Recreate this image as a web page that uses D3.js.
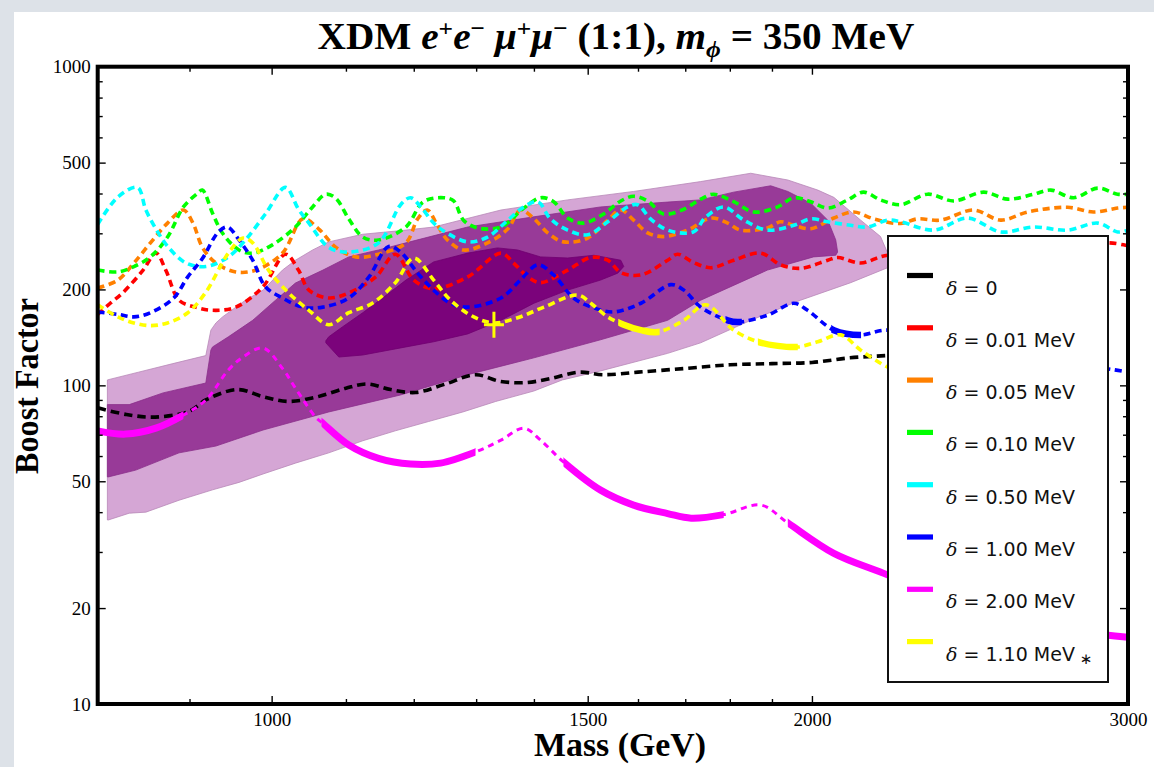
<!DOCTYPE html>
<html><head><meta charset="utf-8">
<script src="https://cdn.jsdelivr.net/npm/d3@7"></script>
<style>body{margin:0;background:#dde2e8;} svg{display:block}</style>
</head><body><svg id="c" width="1154" height="767"></svg>
<script>
// ---------- data ----------
const massRange = [800, 3000];
const boostRange = [10, 1000];
const xTickLabels = [1000, 1500, 2000, 3000];
const xMinorTicks = [900, 1100, 1200, 1300, 1400, 1600, 1700, 1800, 1900];
const yTickLabels = [10, 20, 50, 100, 200, 500, 1000];
const yMinorTicks = [30, 40, 60, 70, 80, 90, 300, 400, 600, 700, 800, 900];

const legendLabels = ["0", "0.01 MeV", "0.05 MeV", "0.10 MeV", "0.50 MeV", "1.00 MeV", "2.00 MeV", "1.10 MeV"];
const seriesNames = ["black", "red", "orange", "green", "cyan", "blue", "magenta", "yellow"];
const seriesColors = ["#000000", "#ff0000", "#ff8000", "#00ff00", "#00ffff", "#0000ff", "#ff00ff", "#ffff00"];

// regions (mass GeV, boost factor)
const lightTop = [[810,104],[843,110],[881,117],[919,124],[925,149],[931,157],[939,164],[967,185],[989,199],[1014,230],[1031,247],[1054,266],[1076,282],[1124,298],[1188,307],[1231,314],[1342,355],[1462,382],[1591,406],[1734,436],[1849,463],[1939,441],[2015,410],[2057,389],[2129,330],[2184,293],[2204,260]];
const lightBottom = [[2204,234],[2102,210],[1971,185],[1849,160],[1734,136],[1662,126],[1525,111],[1452,104],[1400,96],[1333,89],[1278,82.5],[1223,77],[1172,72],[1124,67],[1076,61.4],[1031,57],[989,52.7],[959,49.6],[927,47],[888,43.6],[851,40],[833,39.7],[811,37.8],[810,37.8]];
const mediumTop = [[810,87],[833,87],[870,94.7],[919,101.7],[925,129],[927,132],[946,142],[976,160],[1005,185],[1031,209.5],[1068,230],[1104,253],[1147,266],[1188,280],[1286,314],[1400,338],[1525,363],[1662,376],[1734,382],[1809,404],[1897,423],[1939,406],[1997,373],[2041,330],[2062,286],[2067,262]];
const mediumBottom = [[2062,256],[2004,253],[1889,230],[1734,185],[1662,160],[1525,139],[1400,122],[1286,108],[1180,93.3],[1076,82.5],[989,72.4],[931,64.5],[888,61.4],[840,54.2],[811,51.6],[810,51.6]];
const darkTop = [[1072,138],[1076,142],[1095,152.5],[1124,169],[1153,188],[1188,214],[1231,244],[1286,260],[1336,270],[1371,266],[1412,253],[1462,251],[1512,256],[1565,247],[1571,236]];
const darkBottom = [[1559,225],[1525,214],[1462,199],[1400,181],[1342,160],[1286,145],[1231,137],[1188,132],[1124,124.5],[1090,122.7],[1072,136]];

// curves (mass GeV, boost factor)
const black = [[800,85],[830,81],[861,79.5],[900,83],[919,90],[957,97],[990,92],[1022,89],[1060,92],[1100,98],[1131,101],[1165,97],[1203,95],[1250,101],[1299,108],[1340,103],[1385,102],[1430,105],[1483,110],[1530,108],[1600,110],[1700,113],[1800,116],[1900,117],[2000,118],[2100,122],[2200,124],[2300,126]];
const red = [[800,167],[813,181],[826,195],[848,230],[862,260],[873,230],[888,185],[907,176],[927,172],[955,176],[989,204],[1018,258],[1035,230],[1049,199],[1076,188],[1104,195],[1143,219],[1172,258],[1200,214],[1231,201],[1286,219],[1342,260],[1364,242],[1389,219],[1412,210],[1462,230],[1506,252],[1539,247],[1565,226],[1606,222],[1662,247],[1683,258],[1718,243],[1757,234],[1809,247],[1873,260],[1921,239],[1971,233],[2041,247],[2067,252],[2129,242],[2204,256],[2350,245],[2500,268],[2650,255],[2800,272],[2923,280],[2983,276],[3000,274]];
const orange = [[800,202],[821,214],[838,242],[856,280],[875,323],[893,355],[904,323],[915,271],[931,242],[955,227],[980,230],[1014,260],[1041,333],[1062,310],[1086,271],[1114,253],[1147,258],[1188,280],[1206,333],[1221,355],[1237,318],[1253,286],[1279,266],[1319,280],[1354,310],[1376,355],[1399,335],[1425,301],[1454,282],[1500,290],[1539,330],[1565,355],[1591,330],[1620,301],[1653,293],[1705,307],[1757,335],[1795,323],[1825,307],[1889,312],[1921,326],[1954,318],[1997,310],[2057,335],[2110,350],[2165,333],[2241,322],[2290,333],[2359,330],[2461,355],[2548,330],[2638,350],[2776,362],[2870,350],[2960,360],[3000,362]];
const green = [[800,230],[821,227],[838,236],[856,253],[875,292],[893,363],[909,400],[915,410],[927,347],[939,300],[959,266],[976,260],[1001,276],[1031,314],[1054,363],[1072,398],[1086,386],[1104,333],[1124,292],[1147,286],[1188,314],[1215,377],[1247,388],[1263,379],[1279,330],[1302,312],[1342,314],[1382,360],[1412,388],[1436,377],[1462,335],[1492,323],[1531,345],[1565,379],[1591,392],[1620,379],[1653,345],[1697,357],[1734,384],[1763,398],[1809,377],[1856,350],[1914,363],[1954,388],[1997,377],[2041,360],[2094,382],[2137,404],[2184,382],[2241,369],[2320,398],[2399,379],[2493,404],[2571,384],[2658,398],[2717,410],[2798,388],[2886,416],[2960,398],[3000,398]];
const cyan = [[800,320],[821,390],[842,418],[851,355],[864,303],[876,271],[896,242],[919,236],[946,253],[967,286],[992,345],[1018,418],[1035,357],[1049,323],[1076,271],[1104,262],[1147,280],[1180,369],[1195,388],[1211,363],[1231,323],[1247,305],[1286,282],[1319,292],[1354,330],[1382,363],[1407,377],[1430,333],[1462,307],[1500,297],[1539,326],[1579,363],[1599,369],[1626,333],[1662,307],[1718,303],[1745,337],[1786,363],[1833,330],[1889,307],[1954,318],[1997,333],[2041,326],[2102,318],[2148,314],[2204,330],[2241,326],[2338,307],[2442,335],[2548,303],[2658,314],[2776,307],[2886,323],[2960,303],[3000,307]];
const blue = [[800,170],[821,167],[838,164],[856,169],[882,188],[898,219],[915,250],[934,303],[945,314],[959,286],[976,247],[992,204],[1014,188],[1041,176],[1068,176],[1104,188],[1133,219],[1162,273],[1180,262],[1206,225],[1231,199],[1258,181],[1286,176],[1342,188],[1376,214],[1407,239],[1436,222],[1473,188],[1512,175],[1551,170],[1606,181],[1669,207],[1697,199],[1734,176],[1795,160],[1820,158],[1889,166],[1954,181],[1989,172],[2057,149],[2129,144],[2204,149],[2400,135],[2700,120],[2945,112],[3000,110]];
const magenta = [[800,72],[829,70.3],[862,73.4],[893,80.7],[919,89.9],[946,111.7],[964,122.7],[989,131],[1014,113],[1031,98],[1058,79.5],[1068,76],[1104,65],[1147,59],[1195,56.6],[1242,57],[1299,61.8],[1342,67.3],[1382,73.4],[1412,67.3],[1454,57.5],[1525,46.9],[1591,42.1],[1662,39.6],[1713,38.3],[1786,39.3],[1873,42.1],[1939,37],[2057,29.7],[2193,25.7],[2389,21.2],[2614,18.3],[2908,16.5],[3000,16.2]];
const yellow = [[800,179],[821,164],[838,157],[856,154],[875,157],[898,169],[919,196],[946,260],[964,290],[976,280],[996,230],[1022,195],[1049,172],[1076,155],[1104,169],[1138,181],[1172,210],[1200,251],[1231,214],[1258,185],[1296,164],[1330,157],[1371,163],[1418,176],[1481,192],[1506,181],[1539,164],[1571,155],[1606,149],[1641,147],[1697,160],[1745,179],[1809,149],[1866,137],[1914,133],[1964,132],[2015,137],[2075,144],[2129,129],[2204,114],[2260,108]];
const bestFit = [1330, 155];

// mass ranges drawn as thick solid line
const magentaSolid = [[800,893],[1066,1299],[1454,1786],[1939,3000]];
const yellowSolid = [[1560,1645],[1866,1964]];
const blueSolid = [[1790,1828],[2050,2130]];

// ---------- drawing ----------
const svg = d3.select("#c");
const W = 1154, H = 767;
svg.append("rect").attr("x",14).attr("y",12).attr("width",W-14).attr("height",H-12).attr("fill","#fff");

const L = 97.7, R = 1128, T = 66.7, B = 704;
const x = d3.scaleLog().domain(massRange).range([L, R]);
const y = d3.scaleLog().domain(boostRange).range([B, T]);

const defs = svg.append("defs");
defs.append("clipPath").attr("id","plotclip").append("rect")
  .attr("x",L).attr("y",T).attr("width",R-L).attr("height",B-T);

const plot = svg.append("g").attr("clip-path","url(#plotclip)");

const lin = d3.line().x(d=>x(d[0])).y(d=>y(d[1]));
function region(top, bottom, fill, stroke){
  plot.append("path").attr("d", lin(top.concat(bottom)) + "Z")
    .attr("fill", fill).attr("stroke", stroke).attr("stroke-width", 0.8);
}
region(lightTop, lightBottom, "#d5a6d5", "#b888b8");
region(mediumTop, mediumBottom, "#983a98", "#8a2e8a");
region(darkTop, darkBottom, "#7b037b", "#700070");

const curve = d3.line().x(d=>x(d[0])).y(d=>y(d[1])).curve(d3.curveCatmullRom.alpha(0.5));
const seriesData = {black, red, orange, green, cyan, blue, magenta, yellow};
const solidRanges = {magenta: magentaSolid, yellow: yellowSolid, blue: blueSolid};

seriesNames.forEach((name, i) => {
  const data = seriesData[name];
  const col = seriesColors[i];
  const isBlack = name === "black";
  const isMag = name === "magenta";
  plot.append("path").attr("d", curve(data)).attr("fill","none")
    .attr("stroke", col)
    .attr("stroke-width", isMag ? 3 : 3.6)
    .attr("stroke-dasharray", isBlack ? "8.5,5" : (isMag ? "6,5" : "7,4.6"));
  const ranges = solidRanges[name];
  if (ranges) {
    ranges.forEach((r, k) => {
      const id = "clip_" + name + k;
      defs.append("clipPath").attr("id", id).append("rect")
        .attr("x", x(r[0])).attr("y", T).attr("width", x(r[1]) - x(r[0])).attr("height", B - T);
      plot.append("g").attr("clip-path", "url(#" + id + ")")
        .append("path").attr("d", curve(data)).attr("fill","none")
        .attr("stroke", col).attr("stroke-width", isMag ? 7 : 6.5);
    });
  }
});

// best fit marker
const bx = x(bestFit[0]), by = y(bestFit[1]);
plot.append("path").attr("d", `M${bx-10},${by}H${bx+10}M${bx},${by-13}V${by+13}`)
  .attr("stroke","#ffff00").attr("stroke-width",3).attr("fill","none");

// ---------- axes ----------
const axisFont = "'Liberation Serif','Times New Roman',serif";
function styleAxis(g){
  g.select(".domain").remove();
  g.selectAll(".tick line").attr("stroke","#000").attr("stroke-width",1.4);
  g.selectAll("text").attr("font-family", axisFont).attr("font-size", 19).attr("fill","#000");
}
const fmt = d3.format("d");
svg.append("g").attr("transform",`translate(0,${B})`)
  .call(d3.axisBottom(x).tickValues(xTickLabels).tickFormat(fmt).tickSizeInner(-8).tickSizeOuter(0).tickPadding(9)).call(styleAxis);
svg.append("g").attr("transform",`translate(0,${B})`)
  .call(d3.axisBottom(x).tickValues(xMinorTicks).tickFormat("").tickSizeInner(-5).tickSizeOuter(0)).call(styleAxis);
svg.append("g").attr("transform",`translate(0,${T})`)
  .call(d3.axisTop(x).tickValues(xTickLabels).tickFormat("").tickSizeInner(-8).tickSizeOuter(0)).call(styleAxis);
svg.append("g").attr("transform",`translate(0,${T})`)
  .call(d3.axisTop(x).tickValues(xMinorTicks).tickFormat("").tickSizeInner(-5).tickSizeOuter(0)).call(styleAxis);
svg.append("g").attr("transform",`translate(${L},0)`)
  .call(d3.axisLeft(y).tickValues(yTickLabels).tickFormat(fmt).tickSizeInner(-8).tickSizeOuter(0).tickPadding(7)).call(styleAxis);
svg.append("g").attr("transform",`translate(${L},0)`)
  .call(d3.axisLeft(y).tickValues(yMinorTicks).tickFormat("").tickSizeInner(-5).tickSizeOuter(0)).call(styleAxis);
svg.append("g").attr("transform",`translate(${R},0)`)
  .call(d3.axisRight(y).tickValues(yTickLabels).tickFormat("").tickSizeInner(-8).tickSizeOuter(0)).call(styleAxis);
svg.append("g").attr("transform",`translate(${R},0)`)
  .call(d3.axisRight(y).tickValues(yMinorTicks).tickFormat("").tickSizeInner(-5).tickSizeOuter(0)).call(styleAxis);

// frame
svg.append("rect").attr("x",L).attr("y",T).attr("width",R-L).attr("height",B-T)
  .attr("fill","none").attr("stroke","#000").attr("stroke-width",4);

// ---------- legend ----------
const lg = svg.append("g");
lg.append("rect").attr("x",888).attr("y",236).attr("width",220).attr("height",446)
  .attr("fill","#fff").attr("stroke","#111").attr("stroke-width",2);
legendLabels.forEach((lab, i) => {
  const cy = 275.5 + i * 52.3;
  lg.append("rect").attr("x",907).attr("y",cy-2.6).attr("width",26).attr("height",5.2).attr("fill",seriesColors[i]);
  const t = lg.append("text").attr("x",946).attr("y",cy+19).attr("font-size",19).attr("fill","#111");
  t.append("tspan").attr("font-family","'DejaVu Serif',serif").attr("font-style","italic").text("δ");
  t.append("tspan").attr("font-family","'DejaVu Sans',sans-serif").text(" = " + lab);
  if (i === legendLabels.length - 1) {
    t.append("tspan").attr("font-family","'DejaVu Sans',sans-serif").attr("font-size",15).attr("dy",3).text(" ∗");
  }
});

// ---------- titles ----------
function fitText(sel, targetW, cx, cy, rot){
  const w = sel.node().getComputedTextLength();
  const sx = targetW / w;
  sel.attr("transform", `translate(${cx},${cy}) rotate(${rot||0}) scale(${sx},1)`);
}
const tfont = "'Liberation Serif','Times New Roman',serif";
const title = svg.append("text").attr("font-family", tfont).attr("font-weight","bold")
  .attr("font-size", 37).attr("text-anchor","middle").attr("fill","#000");
const parts = [
  ["XDM ", null, 0], ["e", "italic", 0], ["+", null, -13], ["e", "italic", 13], ["−", null, -13],
  [" ", null, 13], ["μ", "italic", 0], ["+", null, -13], ["μ", "italic", 13], ["−", null, -13],
  [" (1:1),  ", null, 13], ["m", "italic", 0], ["ϕ", "italic", 8], [" = 350 MeV", null, -8]
];
parts.forEach(p => {
  const ts = title.append("tspan").text(p[0]).attr("dy", p[2]);
  if (p[1]) ts.attr("font-style", p[1]);
  if (p[0] === "+" || p[0] === "−") ts.attr("font-size", 24);
  if (p[0] === "ϕ") ts.attr("font-size", 24);
});
fitText(title, 597, 616, 49, 0);

const xl = svg.append("text").attr("font-family", tfont).attr("font-weight","bold")
  .attr("font-size", 33).attr("text-anchor","middle").text("Mass (GeV)");
fitText(xl, 172, 620, 756, 0);
const yl = svg.append("text").attr("font-family", tfont).attr("font-weight","bold")
  .attr("font-size", 33).attr("text-anchor","middle").text("Boost Factor");
fitText(yl, 176, 38, 386, -90);
</script></body></html>
